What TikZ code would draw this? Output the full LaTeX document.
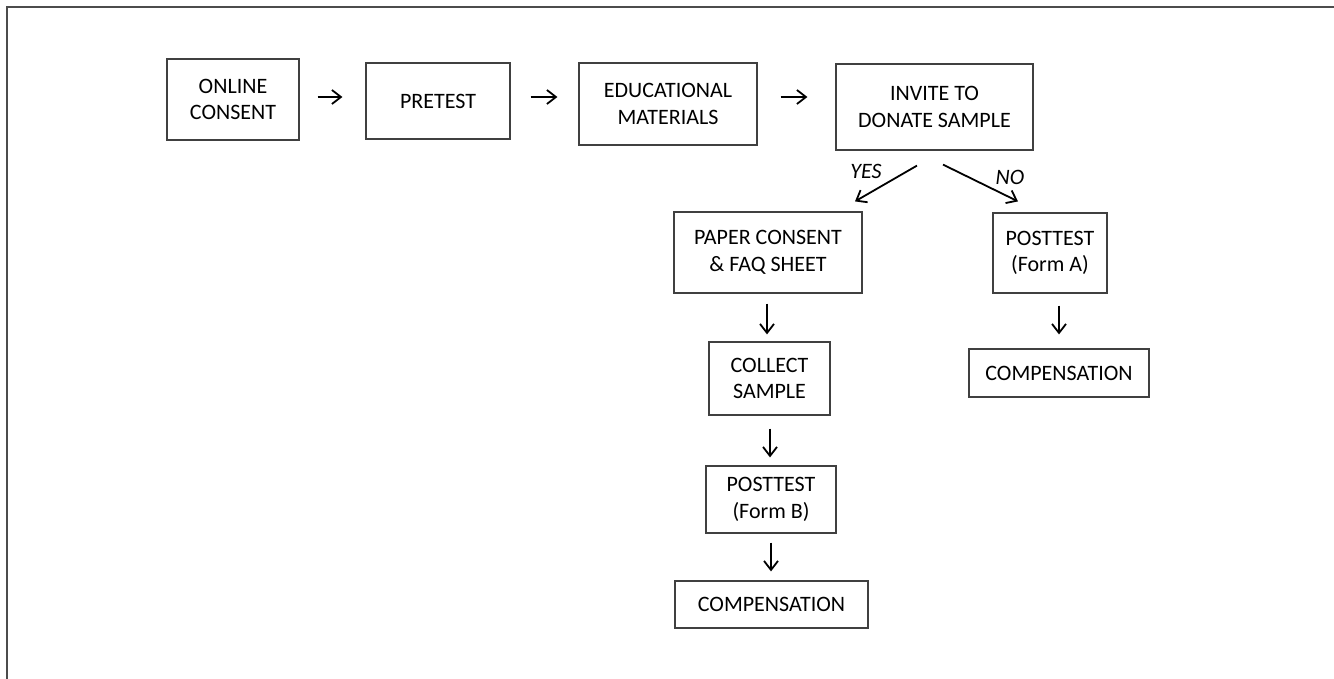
\documentclass[tikz,border=0pt]{standalone}
\usepackage{fontspec}
\setmainfont{Carlito}
\usetikzlibrary{arrows.meta,calc}
\begin{document}
\begin{tikzpicture}[x=1pt,y=-1pt,
  box/.style={draw=black!75,line width=1.2pt,inner sep=0pt,align=center,
    font=\fontsize{22}{26.5}\selectfont},
  arr/.style={line width=1.8pt,-{Straight Barb[length=9pt,width=14pt,line width=1.8pt]}},
  lbl/.style={font=\fontsize{22}{26.5}\selectfont\itshape,inner sep=0pt}]
\useasboundingbox (0,0) rectangle (1334,679);
\draw[black!70,line width=1.6pt] (7,679) -- (7,7) -- (1334,7);
\node[box,minimum width=132pt,minimum height=81pt] (on) at (233,99.5) {ONLINE\\CONSENT};
\node[box,minimum width=144pt,minimum height=76pt] (pre) at (438,101) {PRETEST};
\node[box,minimum width=178pt,minimum height=82pt] (edu) at (668,104) {EDUCATIONAL\\MATERIALS};
\node[box,minimum width=197pt,minimum height=86pt] (inv) at (934.5,107) {INVITE TO\\DONATE SAMPLE};
\node[box,minimum width=188pt,minimum height=81pt] (pap) at (768,252.5) {PAPER CONSENT\\\& FAQ SHEET};
\node[box,minimum width=121pt,minimum height=73pt] (col) at (769.5,378.5) {COLLECT\\SAMPLE};
\node[box,minimum width=130pt,minimum height=67pt] (pB) at (771,499.5) {POSTTEST\\(Form B)};
\node[box,minimum width=193pt,minimum height=47pt] (cB) at (771.5,604.5) {COMPENSATION};
\node[box,minimum width=114pt,minimum height=80pt] (pA) at (1050,253) {POSTTEST\\(Form A)};
\node[box,minimum width=180pt,minimum height=48pt] (cA) at (1059,373) {COMPENSATION};
\draw[arr,shorten <=18pt,shorten >=23pt] (on.east |- 0,97) -- (pre.west |- 0,97);
\draw[arr,shorten <=20pt,shorten >=21pt] (pre.east |- 0,97) -- (edu.west |- 0,97);
\draw[arr,shorten <=23pt,shorten >=28pt] (edu.east |- 0,97) -- (inv.west |- 0,97);
\draw[arr] ($(inv.south)+(-17.5,15)$) -- ($(pap.north)+(87,-10)$);
\draw[arr] ($(inv.south)+(8.5,14)$) -- ($(pA.north)+(-32,-11)$);
\node[lbl] (yes) at (866,171) {YES};
\node[lbl] (no) at (1010,177) {NO};
\draw[arr,shorten <=10pt,shorten >=7pt] (pap.south -| 767,0) -- (col.north -| 767,0);
\draw[arr,shorten <=13pt,shorten >=8pt] (col.south -| 770,0) -- (pB.north -| 770,0);
\draw[arr,shorten <=9pt,shorten >=9pt] (pB.south -| 771,0) -- (cB.north -| 771,0);
\draw[arr,shorten <=12pt,shorten >=14pt] (pA.south -| cA.north) -- (cA.north);
\end{tikzpicture}
\end{document}
